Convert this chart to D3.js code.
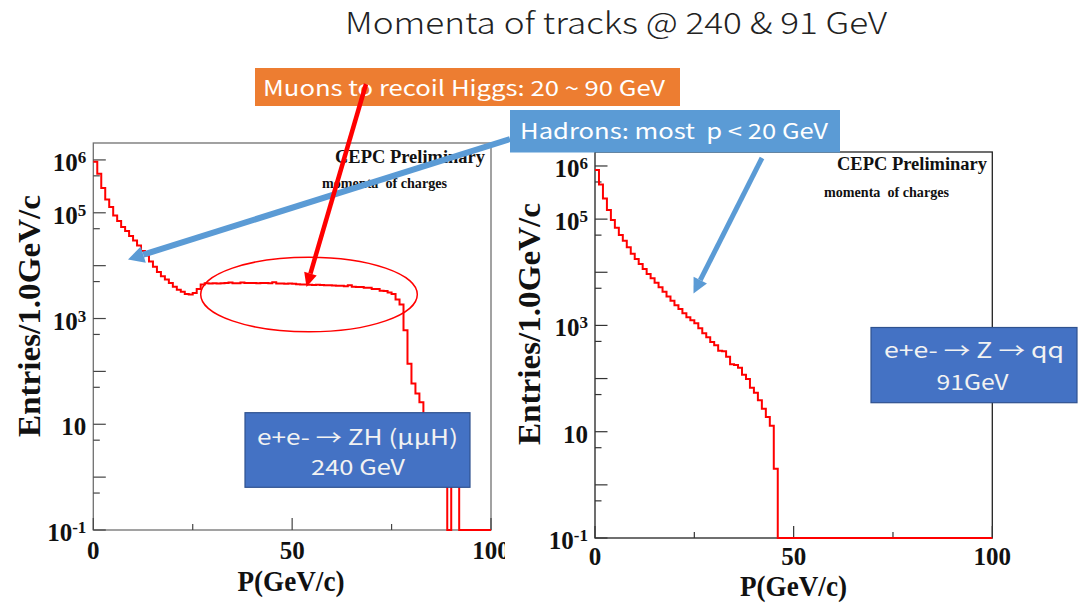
<!DOCTYPE html>
<html>
<head>
<meta charset="utf-8">
<script src="https://cdn.jsdelivr.net/npm/d3@7/dist/d3.min.js"></script>
<style>
  html, body { margin: 0; padding: 0; background: #fff; }
  svg { display: block; }
  text { white-space: pre; }
</style>
</head>
<body>
<svg id="chart" width="1087" height="604"></svg>
<script>
// ---- data: track momentum spectra, 1 GeV/c bins from 0 to 100 GeV/c ----
const binEdgesGeV = d3.range(0, 101);

// e+e- -> ZH (mumuH) at 240 GeV
const zhEntries = [
  920000, 550000, 295000, 178000, 129000, 89000, 70000, 54000, 45000, 36500,
  30000, 24000, 19000, 15500, 12000, 9500, 7600, 6300, 5500, 4700,
  4000, 3500, 3200, 2900, 2850, 3050, 3600, 4400, 4650, 4600,
  4650, 4600, 4650, 4700, 4800, 4650, 4650, 4800, 4700, 4700,
  4700, 4650, 4700, 4700, 4650, 4850, 4600, 4600, 4550, 4600,
  4550, 4450, 4400, 4400, 4350, 4300, 4350, 4300, 4250, 4250,
  4200, 4150, 4150, 4100, 4250, 4000, 3950, 3950, 3800, 3800,
  3600, 3600, 3350, 3300, 3100, 2900, 2300, 1850, 600, 140,
  59, 38, 26, 15, 10, 7, 4, 3, 2, 0,
  1, 1, 0, 0, 0, 0, 0, 0, 0, 0
];

// e+e- -> Z -> qq at 91 GeV
const zqqEntries = [
  840000, 450000, 245000, 148000, 96000, 69000, 50000, 39000, 29500, 22400,
  17800, 14300, 11500, 9300, 7700, 6350, 5250, 4300, 3500, 2900,
  2400, 2030, 1700, 1420, 1250, 1100, 880, 710, 600, 490,
  425, 335, 325, 258, 185, 180, 160, 118, 98, 67,
  54, 39, 27, 19, 13, 2, 0, 0, 0, 0,
  0, 0, 0, 0, 0, 0, 0, 0, 0, 0,
  0, 0, 0, 0, 0, 0, 0, 0, 0, 0,
  0, 0, 0, 0, 0, 0, 0, 0, 0, 0,
  0, 0, 0, 0, 0, 0, 0, 0, 0, 0,
  0, 0, 0, 0, 0, 0, 0, 0, 0, 0
];

// axis ticks and labels
const xMajorTicks = [0, 50, 100];
const xMinorTicks = [25, 75];
const xTickLabels = ["0", "50", "100"];
const yMajorExps = [-1, 0, 1, 2, 3, 4, 5, 6];
const yMinorExps = [-1, 0, 1, 2, 3, 4, 5];          // ticks at 5 x 10^n
const yLabelExps = [6, 5, 3, 1, -1];                  // labelled decades

// texts
const titleText = "Momenta of tracks @ 240 & 91 GeV";
const xTitle = "P(GeV/c)";
const yTitle = "Entries/1.0GeV/c";
const stampText = "CEPC Preliminary";
const histTitle = "momenta  of charges";
const muonNote = "Muons to recoil Higgs: 20 ~ 90 GeV";
const hadronNote = "Hadrons: most  p < 20 GeV";
const zhLines = ["e+e- \u2192 ZH (\u03bc\u03bcH)", "240 GeV"];
const zqqLines = ["e+e- \u2192 Z \u2192 qq", "91GeV"];

// ---- drawing ----
const svg = d3.select("#chart");
const serif = "'Liberation Serif', 'Times New Roman', serif";
const sans = "'Noto Sans CJK SC', 'Noto Sans', sans-serif";

svg.append("text")
  .attr("x", 616).attr("y", 34)
  .attr("text-anchor", "middle")
  .attr("font-family", sans).attr("font-weight", 300)
  .attr("font-size", 30).attr("fill", "#222")
  .attr("textLength", 542).attr("lengthAdjust", "spacingAndGlyphs")
  .text(titleText);

function drawPanel(p, entries) {
  const g = svg.append("g");
  const x = d3.scaleLinear().domain([0, 100]).range([p.x0, p.x1]);
  const y = d3.scaleLog().domain([0.1, p.yMax]).range([p.yBot, p.yTop]);

  // frame
  g.append("rect")
    .attr("x", p.x0).attr("y", p.yTop)
    .attr("width", p.x1 - p.x0).attr("height", p.yBot - p.yTop)
    .attr("fill", "none").attr("stroke", p.frame).attr("stroke-width", 1.3);

  // y ticks (inside the frame)
  yMajorExps.forEach(e => {
    const yy = y(Math.pow(10, e));
    g.append("line").attr("x1", p.x0).attr("x2", p.x0 + 12.5)
      .attr("y1", yy).attr("y2", yy).attr("stroke", p.tick).attr("stroke-width", 1.2);
  });
  yMinorExps.forEach(e => {
    const yy = y(5 * Math.pow(10, e));
    g.append("line").attr("x1", p.x0).attr("x2", p.x0 + 6.5)
      .attr("y1", yy).attr("y2", yy).attr("stroke", p.tick).attr("stroke-width", 1.2);
  });
  // x ticks
  xMajorTicks.forEach(v => {
    g.append("line").attr("x1", x(v)).attr("x2", x(v))
      .attr("y1", p.yBot).attr("y2", p.yBot - 12)
      .attr("stroke", p.tick).attr("stroke-width", 1.2);
  });
  xMinorTicks.forEach(v => {
    g.append("line").attr("x1", x(v)).attr("x2", x(v))
      .attr("y1", p.yBot).attr("y2", p.yBot - 6)
      .attr("stroke", p.tick).attr("stroke-width", 1.2);
  });

  // y labels: 10^n
  yLabelExps.forEach(e => {
    const t = g.append("text")
      .attr("x", p.x0 - 7).attr("y", y(Math.pow(10, e)) + 11)
      .attr("text-anchor", "end")
      .attr("font-family", serif).attr("font-weight", "bold")
      .attr("font-size", 25).attr("fill", "#111");
    t.append("tspan").text("10");
    if (e !== 1) {
      t.append("tspan").attr("font-size", 17).attr("dy", -8).text(String(e));
    }
  });
  // x labels
  xMajorTicks.forEach((v, i) => {
    g.append("text")
      .attr("x", x(v)).attr("y", p.xLabelY)
      .attr("text-anchor", "middle")
      .attr("font-family", serif).attr("font-weight", "bold")
      .attr("font-size", 25).attr("fill", "#111")
      .text(xTickLabels[i]);
  });

  // axis titles
  g.append("text")
    .attr("x", p.xTitleX).attr("y", p.xTitleY)
    .attr("text-anchor", "middle")
    .attr("font-family", serif).attr("font-weight", "bold")
    .attr("font-size", 29).attr("fill", "#111")
    .attr("textLength", 107).attr("lengthAdjust", "spacingAndGlyphs")
    .text(xTitle);
  g.append("text")
    .attr("transform", `translate(${p.yTitleX},${p.yTitleY}) rotate(-90)`)
    .attr("text-anchor", "middle")
    .attr("font-family", serif).attr("font-weight", "bold")
    .attr("font-size", 32).attr("fill", "#111")
    .attr("textLength", 242).attr("lengthAdjust", "spacingAndGlyphs")
    .text(yTitle);

  // stamp and histogram title
  g.append("text")
    .attr("x", p.stampX).attr("y", p.stampY)
    .attr("text-anchor", "end")
    .attr("font-family", serif).attr("font-weight", "bold")
    .attr("font-size", 18.5).attr("fill", "#111")
    .attr("textLength", 150).attr("lengthAdjust", "spacingAndGlyphs")
    .text(stampText);
  g.append("text")
    .attr("x", p.subX).attr("y", p.subY)
    .attr("font-family", serif).attr("font-weight", "bold")
    .attr("font-size", 14).attr("fill", "#111")
    .attr("textLength", 125).attr("lengthAdjust", "spacingAndGlyphs")
    .text(histTitle);

  // step histogram; empty bins sit on the lower edge of the frame
  const pts = entries.map((v, i) => [binEdgesGeV[i], v]);
  pts.push([binEdgesGeV[entries.length], entries[entries.length - 1]]);
  const line = d3.line()
    .x(d => x(d[0]))
    .y(d => d[1] > 0 ? y(d[1]) : p.yBot)
    .curve(d3.curveStepAfter);
  g.append("path")
    .attr("d", line(pts))
    .attr("fill", "none").attr("stroke", "#ff0000")
    .attr("stroke-width", 2).attr("stroke-linejoin", "miter");

  return { x, y };
}

const left = drawPanel({
  x0: 93.3, x1: 491, yTop: 143, yBot: 530, yMax: Math.pow(10, 6.32),
  frame: "#707070", tick: "#444", xLabelY: 559,
  xTitleX: 291, xTitleY: 591, yTitleX: 40, yTitleY: 316,
  stampX: 485, stampY: 163, subX: 322, subY: 188
}, zhEntries);

// muon plateau highlight
svg.append("ellipse")
  .attr("cx", 309).attr("cy", 294.5).attr("rx", 108.3).attr("ry", 37.3)
  .attr("fill", "none").attr("stroke", "#ff0000").attr("stroke-width", 1.5);

// right-hand page region sits over the left figure's edge
svg.append("rect").attr("x", 505).attr("y", 152).attr("width", 582).attr("height", 452).attr("fill", "#fff");

const right = drawPanel({
  x0: 595, x1: 992.3, yTop: 152, yBot: 538, yMax: Math.pow(10, 6.263),
  frame: "#222", tick: "#333", xLabelY: 565,
  xTitleX: 793.5, xTitleY: 596, yTitleX: 540, yTitleY: 324,
  stampX: 987, stampY: 170, subX: 824, subY: 196.5
}, zqqEntries);

// ---- annotations ----
function arrow(x1, y1, x2, y2, w, hl, hw, color) {
  const ang = Math.atan2(y2 - y1, x2 - x1);
  const bx = x2 - hl * Math.cos(ang), by = y2 - hl * Math.sin(ang);
  const nx = -Math.sin(ang), ny = Math.cos(ang);
  svg.append("line").attr("x1", x1).attr("y1", y1).attr("x2", bx).attr("y2", by)
    .attr("stroke", color).attr("stroke-width", w);
  svg.append("path")
    .attr("d", `M${x2},${y2}L${bx + nx * hw / 2},${by + ny * hw / 2}L${bx - nx * hw / 2},${by - ny * hw / 2}Z`)
    .attr("fill", color);
}

function box(x, y, w, h, fill, stroke) {
  svg.append("rect").attr("x", x).attr("y", y).attr("width", w).attr("height", h)
    .attr("fill", fill).attr("stroke", stroke || "none").attr("stroke-width", stroke ? 1.2 : 0);
}
function label(txt, x, y, size, len, color) {
  const t = svg.append("text").attr("x", x).attr("y", y)
    .attr("text-anchor", "middle")
    .attr("font-family", sans).attr("font-size", size).attr("fill", color || "#fff");
  if (len) t.attr("textLength", len).attr("lengthAdjust", "spacingAndGlyphs");
  t.text(txt);
}

// hadron arrow (left) under the hadron note
arrow(510, 139, 128, 259.5, 6, 16, 17, "#5b9bd5");

// hadron note
box(510, 110, 330, 42.5, "#5b9bd5");
label(hadronNote, 674, 139, 21, 308);

// hadron arrow (right)
arrow(762, 158, 693.5, 293.5, 5, 15, 15, "#5b9bd5");

// muon note and its arrow
box(255, 68, 425, 38, "#ed7d31");
label(muonNote, 464, 96, 21, 402);
arrow(366, 84, 306.5, 287, 4.5, 14, 13, "#ff0000");

// process boxes
box(245, 412.7, 225, 74.6, "#4472c4", "#2f528f");
label(zhLines[0], 357.5, 445, 21, 201, "#f2f2f2");
label(zhLines[1], 358, 475, 21, 94, "#f2f2f2");

box(871, 327.5, 206, 75.2, "#4472c4", "#2f528f");
label(zqqLines[0], 974, 358, 21, 180, "#f2f2f2");
label(zqqLines[1], 972.5, 390, 21, 72, "#f2f2f2");
</script>
</body>
</html>
